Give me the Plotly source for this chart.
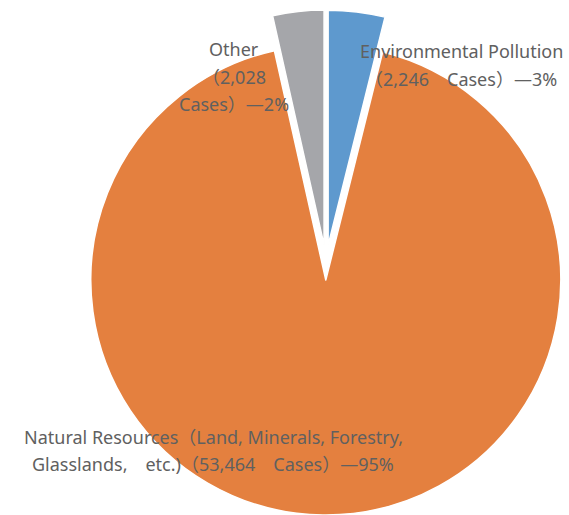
import math
import plotly.graph_objects as go

# Case counts by category
categories = ["Environmental Pollution", "Natural Resources", "Other"]
case_counts = [2246, 53464, 2028]
share_labels = ["3%", "95%", "2%"]
slice_colors = ["#5E99CE", "#E4803F", "#A5A6AA"]

# Label lines per category ({n} = case count, {p} = share)
label_lines = [
    ["Environmental Pollution", "（{n}　Cases）―{p}"],
    ["Natural Resources（Land, Minerals, Forestry,", "Glasslands,　etc.)（{n}　Cases）―{p}"],
    ["Other", "（{n}", "Cases）―{p}"],
]

W, H = 569, 515
CX, CY = 326, 262.5      # pie centre before explosion (px)
R = 235                  # radius (px)
EXPLODE = 17.5           # slice offset along its mid-angle (px)

total = sum(case_counts)
fig = go.Figure()

# each slice is its own pie trace, shifted outward along its mid-angle
start = 0.0
for i, v in enumerate(case_counts):
    sweep = 360.0 * v / total
    mid = math.radians(start + sweep / 2)
    start += sweep
    cx = CX + EXPLODE * math.sin(mid)
    cy = CY - EXPLODE * math.cos(mid)
    x0, x1 = (cx - R) / W, (cx + R) / W
    y0, y1 = 1 - (cy + R) / H, 1 - (cy - R) / H
    colors = ["rgba(0,0,0,0)"] * len(case_counts)
    colors[i] = slice_colors[i]
    widths = [0] * len(case_counts)
    widths[i] = 1.5
    fig.add_trace(go.Pie(
        labels=categories,
        values=case_counts,
        sort=False,
        direction="clockwise",
        rotation=0,
        marker=dict(colors=colors, line=dict(color="white", width=widths)),
        textinfo="none",
        hoverinfo="skip",
        showlegend=False,
        domain=dict(x=[max(0, x0), min(1, x1)], y=[max(0, y0), min(1, y1)]),
    ))

# label positions: centre x and line centre y (px)
label_pos = [
    (461, [51, 79]),
    (213, [436.5, 463.5]),
    (234, [49, 76.5, 104]),
]

for i, (x, ys) in enumerate(label_pos):
    n = f"{case_counts[i]:,}"
    for line, y in zip(label_lines[i], ys):
        fig.add_annotation(
            x=x / W, y=1 - y / H, xref="paper", yref="paper",
            text=line.format(n=n, p=share_labels[i]),
            showarrow=False, xanchor="center", yanchor="middle",
            font=dict(family="Noto Sans, Noto Sans CJK JP", size=18, color="#606060"),
        )

fig.update_layout(
    width=W, height=H,
    margin=dict(l=0, r=0, t=0, b=0),
    paper_bgcolor="white",
    plot_bgcolor="white",
)

fig.write_html("out.html")
